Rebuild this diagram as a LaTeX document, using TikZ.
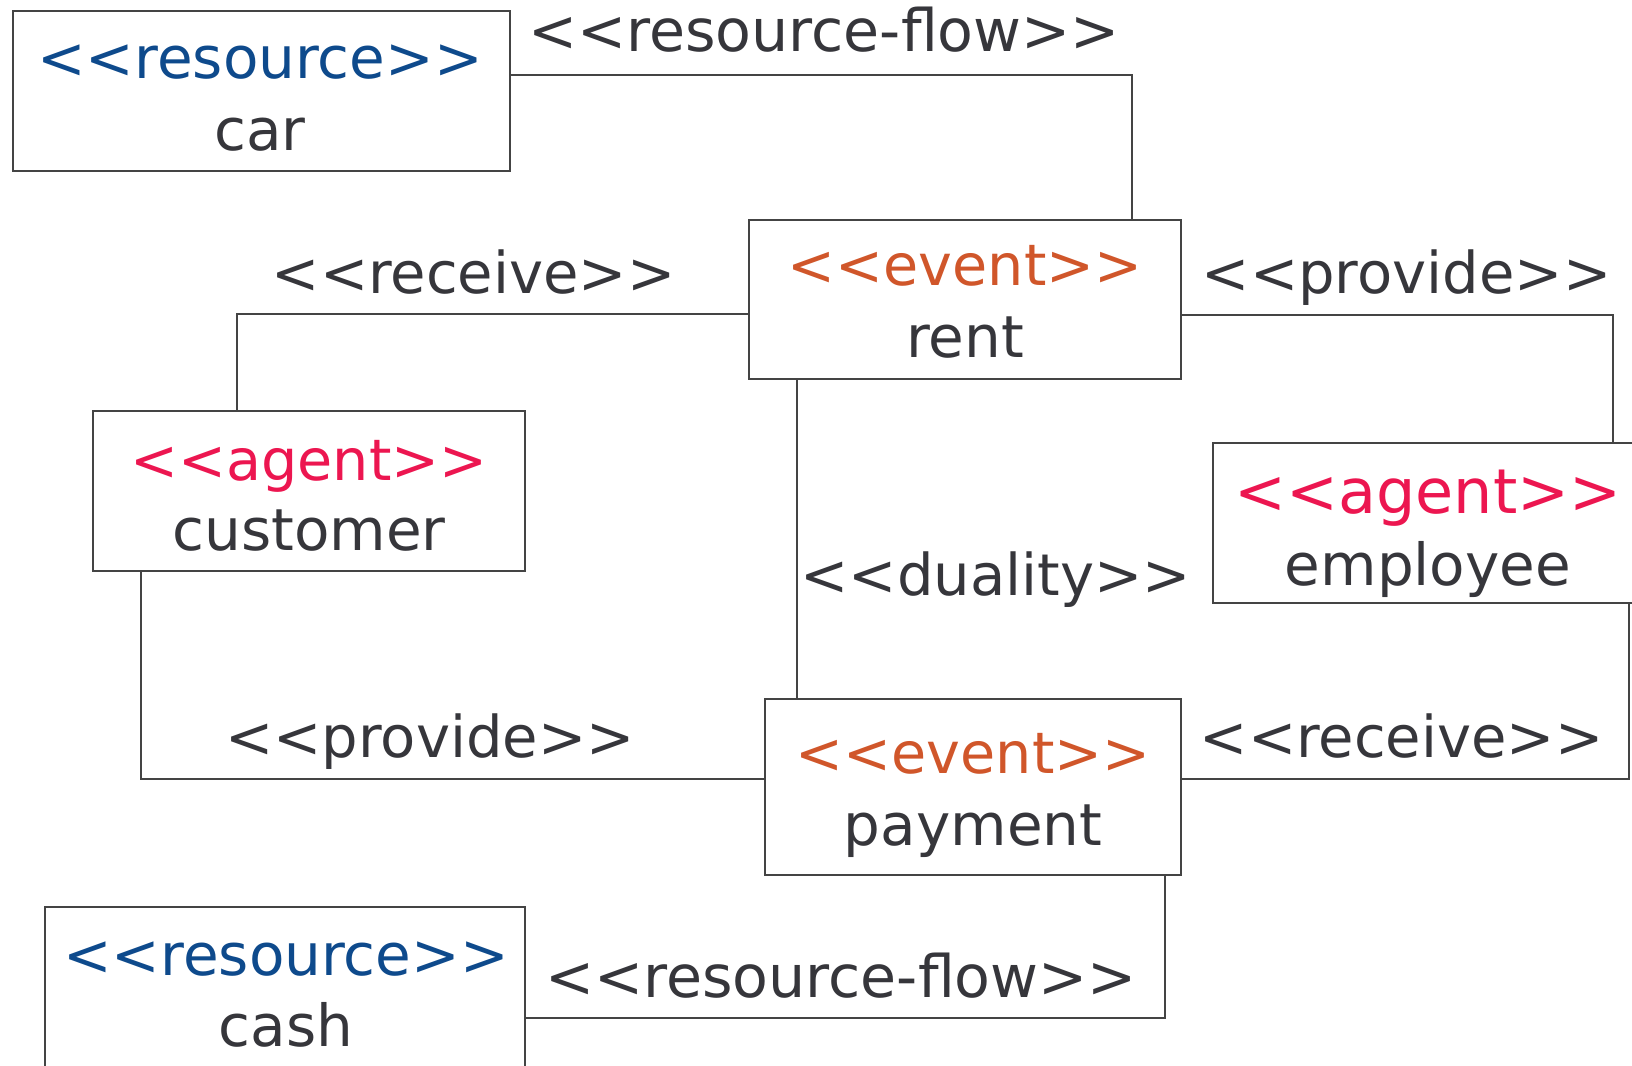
\documentclass[tikz,border=0pt]{standalone}
\usepackage{fontspec}
\newfontfamily\dvs{DejaVu Sans}
\usetikzlibrary{calc}
\definecolor{ink}{HTML}{36363B}
\definecolor{linec}{HTML}{444444}
\definecolor{resblue}{HTML}{0E4A8C}
\definecolor{evorange}{HTML}{D0562A}
\definecolor{agred}{HTML}{EC1650}
% guillemet-style stereotype brackets, kept as two separate glyphs
\newcommand\opn{<\kern0pt<}
\newcommand\cls{>\kern0pt>}
\begin{document}
\begin{tikzpicture}[x=0.5pt,y=-0.5pt,
  box/.style={draw=linec,line width=1pt,inner sep=0pt,outer sep=0pt,anchor=north west},
  wire/.style={draw=linec,line width=1pt},
  lbl/.style={anchor=base,inner sep=0pt,text=ink,font=\dvs\fontsize{28.8}{34}\selectfont},
  nm/.style={anchor=base,inner sep=0pt,text=ink,font=\dvs\fontsize{29}{34}\selectfont},
  st/.style={anchor=base,inner sep=0pt,font=\dvs\fontsize{28.6}{34}\selectfont},
]
\clip (0,0) rectangle (1632,1065);

% boxes
\node[box,minimum width=248.5pt,minimum height=80pt]   (car)      at (12.5,11)  {};
\node[box,minimum width=216.25pt,minimum height=79.5pt] (rent)     at (748.5,220) {};
\node[box,minimum width=216.25pt,minimum height=80pt]  (customer) at (92.5,411) {};
\node[box,minimum width=216pt,minimum height=80pt]     (employee) at (1213,443) {};
\node[box,minimum width=208pt,minimum height=88pt]     (payment)  at (765,699)  {};
\node[box,minimum width=240pt,minimum height=86.5pt]   (cash)     at (45,907)   {};

% box texts
\node[st,text=resblue,font=\dvs\fontsize{29}{34}\selectfont] (car-st) at (260,79) {\opn resource\cls};
\node[nm] (car-nm) at (260,150) {car};
\node[st,text=evorange] (rent-st) at (965,285) {\opn event\cls};
\node[nm] (rent-nm) at (965,357) {rent};
\node[st,text=agred] (customer-st) at (309,480) {\opn agent\cls};
\node[nm] (customer-nm) at (309,550) {customer};
\node[st,text=agred,font=\dvs\fontsize{31}{34}\selectfont] (employee-st) at (1428,513) {\opn agent\cls};
\node[nm] (employee-nm) at (1428,585) {employee};
\node[st,text=evorange] (payment-st) at (973,773) {\opn event\cls};
\node[nm] (payment-nm) at (973,845) {payment};
\node[st,text=resblue,font=\dvs\fontsize{29}{34}\selectfont] (cash-st) at (286,975) {\opn resource\cls};
\node[nm] (cash-nm) at (286,1046) {cash};

% connectors
\draw[wire] ($(car.north east)+(0,64)$) -| ($(rent.north west)+(383.5,0)$);
\draw[wire] ($(rent.north west)+(0,94)$) -| ($(customer.north west)+(144.5,0)$);
\draw[wire] ($(rent.north east)+(0,95)$) -| ($(employee.north west)+(400,0)$);
\coordinate (dual) at ($(rent.south west)+(48.5,0)$);
\draw[wire] (dual) -- (dual |- payment.north);
\draw[wire] ($(customer.south west)+(48,0)$) |- ($(payment.north west)+(0,80)$);
\draw[wire] ($(employee.south west)+(416,0)$) |- ($(payment.north east)+(0,80)$);
\draw[wire] ($(payment.south west)+(400,0)$) |- ($(cash.north east)+(0,111)$);

% connector labels
\node[lbl,font=\dvs\fontsize{29.3}{34}\selectfont] (l-rf1) at (824,52)   {\opn resource-flow\cls};
\node[lbl] (l-rc1) at (473.5,293) {\opn receive\cls};
\node[lbl] (l-pv1) at (1406.5,293) {\opn provide\cls};
\node[lbl] (l-dua) at (995.5,595) {\opn duality\cls};
\node[lbl] (l-pv2) at (430,757)  {\opn provide\cls};
\node[lbl] (l-rc2) at (1401.5,757) {\opn receive\cls};
\node[lbl,font=\dvs\fontsize{29.3}{34}\selectfont] (l-rf2) at (841,997)  {\opn resource-flow\cls};
\end{tikzpicture}
\end{document}
